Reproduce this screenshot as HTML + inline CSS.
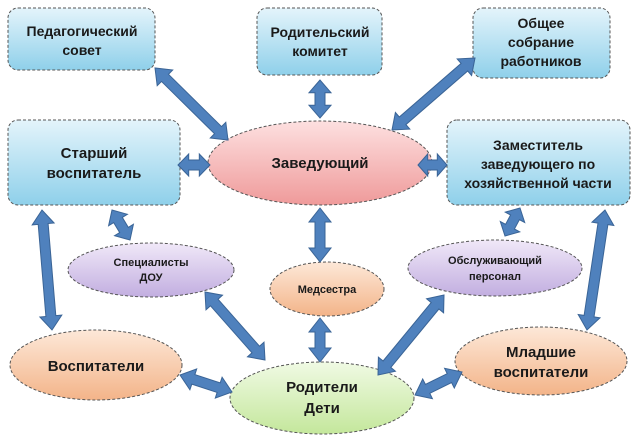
<!DOCTYPE html>
<html><head><meta charset="utf-8"><style>
html,body{margin:0;padding:0;background:#fff;width:640px;height:446px;overflow:hidden}
text{font-family:"Liberation Sans","DejaVu Sans",sans-serif;font-weight:bold;fill:#1a1a1a;text-anchor:middle}
</style></head><body>
<svg id="s" width="640" height="446" viewBox="0 0 640 446" xmlns="http://www.w3.org/2000/svg">
<defs>
<linearGradient id="gb" x1="0" y1="0" x2="0" y2="1"><stop offset="0" stop-color="#e4f4fb"/><stop offset="1" stop-color="#8fd0ea"/></linearGradient>
<linearGradient id="gr" x1="0" y1="0" x2="0" y2="1"><stop offset="0" stop-color="#fde0e0"/><stop offset="1" stop-color="#ef9a9a"/></linearGradient>
<linearGradient id="gp" x1="0" y1="0" x2="0" y2="1"><stop offset="0" stop-color="#f0e8f8"/><stop offset="1" stop-color="#c2aee0"/></linearGradient>
<linearGradient id="go" x1="0" y1="0" x2="0" y2="1"><stop offset="0" stop-color="#fde8d8"/><stop offset="1" stop-color="#f3b489"/></linearGradient>
<linearGradient id="gg" x1="0" y1="0" x2="0" y2="1"><stop offset="0" stop-color="#f0fae4"/><stop offset="1" stop-color="#c4e79c"/></linearGradient>
</defs>
<g stroke="#555" stroke-width="1" stroke-dasharray="3,2">
<rect x="8" y="8" width="147" height="62" rx="10" fill="url(#gb)"/>
<rect x="257" y="8" width="125" height="67" rx="10" fill="url(#gb)"/>
<rect x="473" y="8" width="137" height="70" rx="10" fill="url(#gb)"/>
<rect x="8" y="120" width="172" height="85" rx="10" fill="url(#gb)"/>
<rect x="447" y="120" width="183" height="85" rx="10" fill="url(#gb)"/>
<ellipse cx="320" cy="163" rx="112" ry="42" fill="url(#gr)"/>
<ellipse cx="151" cy="270" rx="83" ry="27" fill="url(#gp)"/>
<ellipse cx="327" cy="289" rx="57" ry="27" fill="url(#go)"/>
<ellipse cx="495" cy="268" rx="87" ry="28" fill="url(#gp)"/>
<ellipse cx="96" cy="365" rx="86" ry="35" fill="url(#go)"/>
<ellipse cx="322" cy="398" rx="92" ry="36" fill="url(#gg)"/>
<ellipse cx="541" cy="361" rx="86" ry="34" fill="url(#go)"/>
</g>
<g id="arr" fill="#4f81bd" stroke="#3a6496" stroke-width="1"></g>
<text x="82" y="36" font-size="14">Педагогический</text>
<text x="82" y="55" font-size="14">совет</text>
<text x="320" y="37" font-size="14">Родительский</text>
<text x="320" y="56" font-size="14">комитет</text>
<text x="541" y="28" font-size="14">Общее</text>
<text x="541" y="47" font-size="14">собрание</text>
<text x="541" y="66" font-size="14">работников</text>
<text x="94" y="158" font-size="15">Старший</text>
<text x="94" y="178" font-size="15">воспитатель</text>
<text x="538" y="150" font-size="14">Заместитель</text>
<text x="538" y="169" font-size="14">заведующего по</text>
<text x="538" y="188" font-size="14">хозяйственной части</text>
<text x="320" y="168" font-size="15">Заведующий</text>
<text x="151" y="266" font-size="11">Специалисты</text>
<text x="151" y="281" font-size="11">ДОУ</text>
<text x="327" y="293" font-size="11">Медсестра</text>
<text x="495" y="264" font-size="11">Обслуживающий</text>
<text x="495" y="280" font-size="11">персонал</text>
<text x="96" y="371" font-size="15">Воспитатели</text>
<text x="322" y="392" font-size="15">Родители</text>
<text x="322" y="413" font-size="15">Дети</text>
<text x="541" y="357" font-size="15">Младшие</text>
<text x="541" y="377" font-size="15">воспитатели</text>
</svg>
<script>
var A=[[155,68,228,140],[320,80,320,118],[475,58,392,130],[178,165,210,165],[418,165,447,165],[112,210,130,240],[42,210,52,330],[320,208,320,262],[520,208,505,236],[605,210,587,330],[205,292,265,360],[320,318,320,362],[444,295,378,375],[180,375,232,392],[462,372,415,395]];
var g=document.getElementById('arr'),s='';
A.forEach(function(a){var x1=a[0],y1=a[1],x2=a[2],y2=a[3],dx=x2-x1,dy=y2-y1,L=Math.hypot(dx,dy),ux=dx/L,uy=dy/L,px=-uy,py=ux,w=5,hw=11,hl=Math.min(14,L/3);
function P(t,o){return (x1+ux*t+px*o).toFixed(1)+','+(y1+uy*t+py*o).toFixed(1);}
var pts=[P(0,0),P(hl,hw),P(hl,w),P(L-hl,w),P(L-hl,hw),P(L,0),P(L-hl,-hw),P(L-hl,-w),P(hl,-w),P(hl,-hw)];
s+='<polygon points="'+pts.join(' ')+'"/>';});
g.innerHTML=s;
</script>
</body></html>
